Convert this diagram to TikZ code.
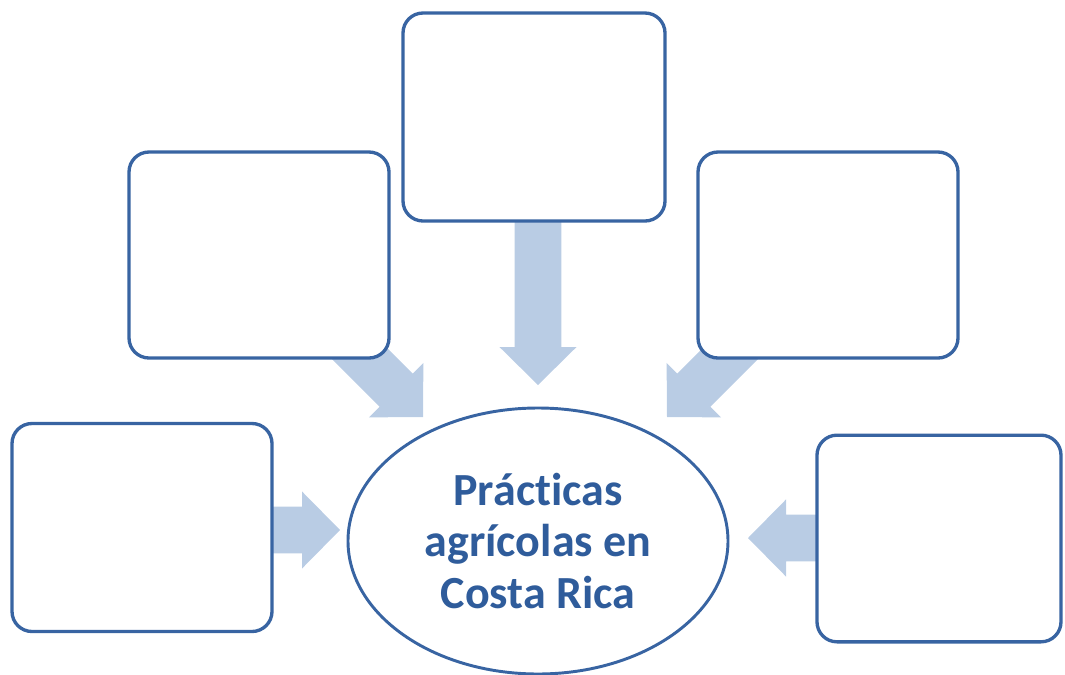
\documentclass[tikz,border=0pt]{standalone}
\usepackage{fontspec}
\setmainfont{Carlito}[Ligatures=NoCommon]
\usetikzlibrary{shapes.geometric,calc}
\definecolor{boxline}{RGB}{56,100,162}
\definecolor{txtblue}{RGB}{47,92,155}
\definecolor{arrowfill}{RGB}{185,204,228}
\tikzset{
  emptybox/.style={draw=boxline, line width=2.5pt, fill=white, rounded corners=15pt,
    minimum width=195pt, minimum height=156pt, inner sep=0pt},
  centre/.style={ellipse, draw=boxline, line width=2.2pt, fill=white,
    minimum width=285pt, minimum height=199.5pt, inner sep=0pt,
    text=txtblue, font=\bfseries\fontsize{34.5}{38.5}\selectfont, align=center},
}
% block arrow from #1 (start) to #2 (tip)
\newcommand\blockarrow[2]{%
  \coordinate (ba-b) at ($(#2)!28.5pt!(#1)$);
  \fill[arrowfill]
    ($(#1)!17.6pt!90:(#2)$) -- ($(ba-b)!17.6pt!90:(#2)$) -- ($(ba-b)!28.9pt!90:(#2)$)
    -- (#2)
    -- ($(ba-b)!28.9pt!-90:(#2)$) -- ($(ba-b)!17.6pt!-90:(#2)$) -- ($(#1)!17.6pt!-90:(#2)$) -- cycle;
}
\begin{document}
\begin{tikzpicture}[x=0.75pt,y=-0.75pt]
\useasboundingbox (0,0) rectangle (1065,675);
% arrow ends
\coordinate (sT) at (538,215);  \coordinate (tT) at (538,385);
\coordinate (sUL) at (340,334); \coordinate (tUL) at (423,417);
\coordinate (sUR) at (750,334); \coordinate (tUR) at (667,417);
\coordinate (sL) at (262,530);  \coordinate (tL) at (340,530);
\coordinate (sR) at (825,538);  \coordinate (tR) at (748,538);
% arrows (behind boxes)
\blockarrow{sT}{tT}
\blockarrow{sUL}{tUL}
\blockarrow{sUR}{tUR}
\blockarrow{sL}{tL}
\blockarrow{sR}{tR}
% boxes
\node[emptybox, minimum width=196.5pt] (top) at (534,117) {};
\node[emptybox, minimum height=154.5pt] (ul) at (259,255) {};
\node[emptybox, minimum height=154.5pt] (ur) at (828,255) {};
\node[emptybox] (bl) at (142,527.5) {};
\node[emptybox, minimum width=183pt, minimum height=155pt] (br) at (939,538.5) {};
% centre
\node[centre] (c) at (538,541) {Prácticas\\agrícolas en\\Costa Rica};
\end{tikzpicture}
\end{document}
